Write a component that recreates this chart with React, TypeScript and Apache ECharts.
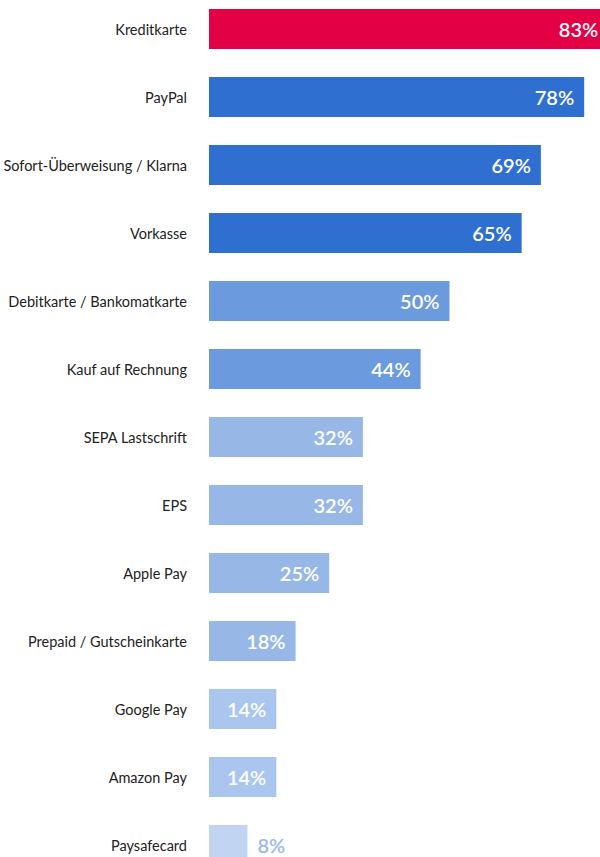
import React, { useEffect, useRef } from "react";
import * as echarts from "echarts";

const categories = [
  "Kreditkarte",
  "PayPal",
  "Sofort-Überweisung / Klarna",
  "Vorkasse",
  "Debitkarte / Bankomatkarte",
  "Kauf auf Rechnung",
  "SEPA Lastschrift",
  "EPS",
  "Apple Pay",
  "Prepaid / Gutscheinkarte",
  "Google Pay",
  "Amazon Pay",
  "Paysafecard",
];

const values = [83, 78, 69, 65, 50, 44, 32, 32, 25, 18, 14, 14, 8];

const barColors = [
  "#E30045",
  "#2F6FD0",
  "#2F6FD0",
  "#2F6FD0",
  "#6C9ADE",
  "#6C9ADE",
  "#97B8E7",
  "#97B8E7",
  "#97B8E7",
  "#97B8E7",
  "#AAC6EE",
  "#AAC6EE",
  "#C1D5F2",
];

export default function App() {
  const ref = useRef<HTMLDivElement>(null);

  useEffect(() => {
    if (!ref.current) return;
    const chart = echarts.init(ref.current, undefined, { renderer: "svg" });
    const lastIdx = values.length - 1;
    chart.setOption({
      animation: false,
      grid: {
        left: 209,
        top: -5,
        width: 481,
        height: 884,
        containLabel: false,
        outerBoundsMode: "none",
      },
      xAxis: {
        type: "value",
        min: 0,
        max: 100,
        show: false,
      },
      yAxis: {
        type: "category",
        data: categories,
        inverse: true,
        axisLine: { show: false },
        axisTick: { show: false },
        splitLine: { show: false },
        axisLabel: {
          margin: 22,
          fontFamily: "Lato",
          fontSize: 14.5,
          color: "#222222",
        },
      },
      series: [
        {
          type: "bar",
          barWidth: 40,
          data: values.map((v, i) => ({
            value: v,
            itemStyle: { color: barColors[i] },
            label:
              i === lastIdx
                ? { position: "right", color: "#9BB9E9", distance: 10 }
                : { position: "insideRight", color: "#FFFFFF", distance: 10 },
          })),
          label: {
            show: true,
            formatter: "{c}%",
            fontFamily: "Lato",
            fontSize: 20,
            fontWeight: 600,
          },
        },
      ],
    });
    return () => chart.dispose();
  }, []);

  return (
    <div
      ref={ref}
      style={{ position: "fixed", left: 0, top: 0, width: 600, height: 857, background: "#ffffff" }}
    />
  );
}
